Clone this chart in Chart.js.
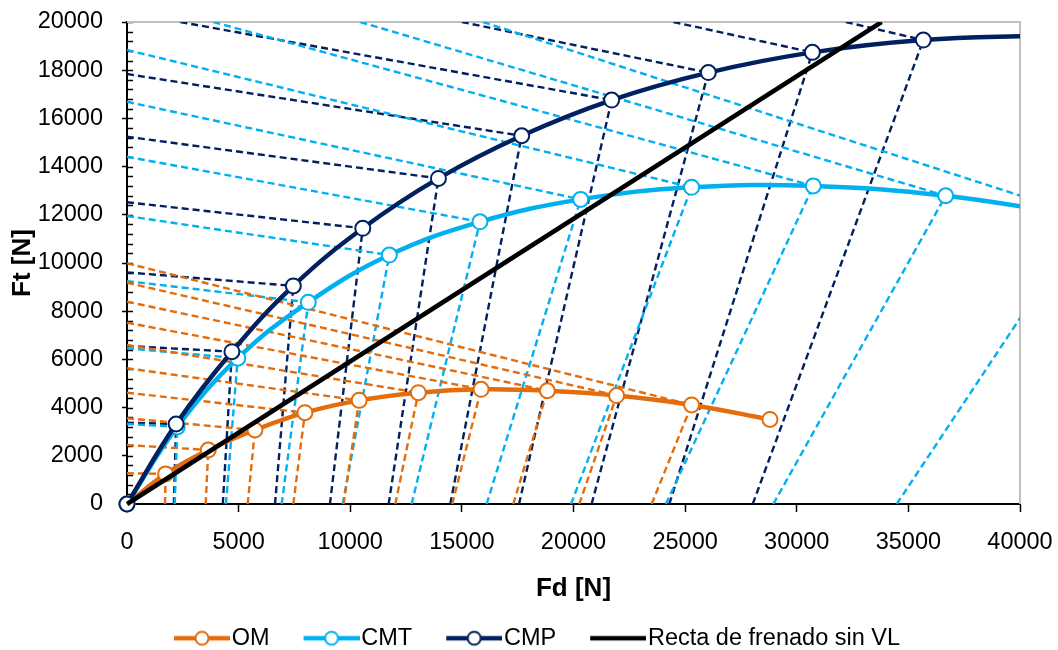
<!DOCTYPE html>
<html>
<head>
<meta charset="utf-8">
<script src="https://cdn.jsdelivr.net/npm/chart.js@4.4.1/dist/chart.umd.min.js"></script>
<style>
html, body { margin: 0; padding: 0; background: #fff; overflow: hidden; }
</style>
</head>
<body>
<canvas id="chart" width="1058" height="650"></canvas>
<script>
// marker points (Fd, Ft) for each series
const omFd  = [0, 1730, 3640, 5730, 7970, 10400, 13050, 15860, 18830, 21930, 25290, 28800];
const omFt  = [0, 1250, 2240, 3070, 3790, 4300, 4620, 4760, 4700, 4500, 4110, 3510];
const cmtFd = [0, 2250, 4960, 8120, 11750, 15810, 20320, 25290, 30740, 36670, 43000];
const cmtFt = [0, 3200, 6050, 8370, 10330, 11710, 12640, 13140, 13200, 12790, 11900];
const cmpFd = [0, 2200, 4700, 7450, 10560, 13950, 17680, 21710, 26040, 30700, 35670, 41000];
const cmpFt = [0, 3320, 6320, 9050, 11440, 13510, 15280, 16760, 17900, 18740, 19250, 19440];
const rectaFd = [0, 33800];
const rectaFt = [0, 20000];

// rear-axle lines: start point (on the Ft axis or the top edge) -> marker
const omRearFd  = [0, 0, 0, 0, 0, 0, 0, 0, 0, 0];
const omRearFt  = [1274, 2448, 3556, 4619, 5631, 6600, 7523, 8394, 9182, 9988];
const cmtRearFd = [0, 0, 0, 0, 0, 0, 0, 3870, 10450, 15950];
const cmtRearFt = [3320, 6460, 9250, 11950, 14410, 16690, 18840, 20000, 20000, 20000];
const cmpRearFd = [0, 0, 0, 0, 0, 0, 2390, 15000, 24480, 32200];
const cmpRearFt = [3370, 6560, 9610, 12520, 15240, 17840, 20000, 20000, 20000, 20000];

// front-axle lines: start on the Fd axis -> marker
const omFrontFd  = [1702, 3525, 5406, 7449, 9700, 12018, 14571, 17304, 20260, 23502];
const cmtFrontFd = [2140, 4430, 6930, 9660, 12750, 16110, 19890, 24140, 28950, 34480];
const cmpFrontFd = [2100, 4290, 6630, 9090, 11720, 14480, 17560, 20810, 24290, 28030];

const xTicks = { min: 0, max: 40000, step: 5000 };
const yTicks = { min: 0, max: 20000, step: 2000 };
const legendNames = ['OM', 'CMT', 'CMP', 'Recta de frenado sin VL'];

const ORANGE = '#E46C0A';
const LBLUE = '#00B0F0';
const NAVY = '#002060';

Chart.defaults.font.family = "Arial, 'Liberation Sans', sans-serif";
Chart.defaults.color = '#000';

function points(fd, ft) {
    return fd.map((x, i) => ({ x: x, y: ft[i] }));
}

// segments start -> marker, broken by a null point
function guideLines(fd, ft, startFd, startFt, color) {
    const pts = [];
    for (let i = 0; i < startFd.length; i++) {
        pts.push({ x: startFd[i], y: startFt[i] });
        pts.push({ x: fd[i + 1], y: ft[i + 1] });
        pts.push({ x: fd[i + 1], y: null });
    }
    return {
        data: pts, borderColor: color, borderWidth: 2.4, borderDash: [7, 4],
        pointRadius: 0, tension: 0, spanGaps: false, fill: false, order: 10
    };
}

function frontLines(fd, ft, startFd, color) {
    return guideLines(fd, ft, startFd, startFd.map(() => 0), color);
}

function mainSeries(label, fd, ft, color, order, marker) {
    return {
        label: label, data: points(fd, ft), borderColor: color, borderWidth: 4.5,
        pointRadius: marker ? 7.5 : 0, pointBorderWidth: 2, pointBackgroundColor: '#fff', pointBorderColor: color,
        tension: 0.4, fill: false, order: order,
        clip: { left: 12, top: 0, right: 0, bottom: 12 }
    };
}

function legendIcon(color, width, marker) {
    const c = document.createElement('canvas');
    c.width = 90; c.height = 24;
    const g = c.getContext('2d');
    g.strokeStyle = color;
    g.lineWidth = width;
    g.beginPath(); g.moveTo(34, 12); g.lineTo(90, 12); g.stroke();
    if (marker) {
        g.beginPath(); g.arc(62, 12, 6.5, 0, Math.PI * 2);
        g.fillStyle = '#fff'; g.fill();
        g.lineWidth = 2; g.stroke();
    }
    return c;
}

const icons = [legendIcon(ORANGE, 4.5, true), legendIcon(LBLUE, 4.5, true), legendIcon(NAVY, 4.5, true), legendIcon('#000', 4.5, false)];

// minor ticks, gray frame, legend position
const framePlugin = {
    id: 'framePlugin',
    afterLayout(chart) {
        chart.legend.left = 30;
        chart.legend.top += 10;
        chart.legend.bottom += 10;
    },
    beforeDatasetsDraw(chart) {
        const { ctx, chartArea: a, scales: { y } } = chart;
        ctx.save();
        ctx.strokeStyle = '#000';
        ctx.lineWidth = 1.5;
        for (let v = yTicks.min; v <= yTicks.max; v += yTicks.step / 5) {
            const py = Math.round(y.getPixelForValue(v)) + 0.5;
            ctx.beginPath(); ctx.moveTo(a.left, py); ctx.lineTo(a.left + 6, py); ctx.stroke();
        }
        ctx.strokeStyle = '#BFBFBF';
        ctx.lineWidth = 2;
        ctx.beginPath();
        ctx.moveTo(a.left, a.top); ctx.lineTo(a.right, a.top); ctx.lineTo(a.right, a.bottom);
        ctx.stroke();
        ctx.restore();
    }
};

new Chart(document.getElementById('chart'), {
    type: 'line',
    data: {
        datasets: [
            mainSeries(legendNames[3], rectaFd, rectaFt, '#000', 0, false),
            mainSeries(legendNames[2], cmpFd, cmpFt, NAVY, 1, true),
            mainSeries(legendNames[1], cmtFd, cmtFt, LBLUE, 2, true),
            mainSeries(legendNames[0], omFd, omFt, ORANGE, 3, true),
            guideLines(omFd, omFt, omRearFd, omRearFt, ORANGE),
            frontLines(omFd, omFt, omFrontFd, ORANGE),
            guideLines(cmtFd, cmtFt, cmtRearFd, cmtRearFt, LBLUE),
            frontLines(cmtFd, cmtFt, cmtFrontFd, LBLUE),
            guideLines(cmpFd, cmpFt, cmpRearFd, cmpRearFt, NAVY),
            frontLines(cmpFd, cmpFt, cmpFrontFd, NAVY)
        ]
    },
    options: {
        responsive: false,
        animation: false,
        events: [],
        layout: { padding: { left: 0, right: 38, top: 22, bottom: 0 } },
        scales: {
            x: {
                type: 'linear', min: xTicks.min, max: xTicks.max,
                ticks: { stepSize: xTicks.step, padding: 16, font: { size: 23.5 }, maxRotation: 0, autoSkip: false,
                         callback: v => String(v) },
                grid: { drawOnChartArea: false, tickLength: 8, color: '#000', tickColor: '#000', tickWidth: 1.5 },
                border: { color: '#000', width: 2 },
                title: { display: true, text: 'Fd [N]', font: { size: 26, weight: 'bold' }, padding: { top: 0, bottom: 2 } },
                afterFit: s => { s.height = 102.5; s.paddingLeft = 0; s.paddingRight = 0; }
            },
            y: {
                type: 'linear', min: yTicks.min, max: yTicks.max,
                ticks: { stepSize: yTicks.step, padding: 19, font: { size: 23.5 }, callback: v => String(v) },
                grid: { drawOnChartArea: false, tickLength: 5, color: '#000', tickColor: '#000', tickWidth: 1.5 },
                border: { color: '#000', width: 2 },
                title: { display: true, text: 'Ft [N]', font: { size: 26, weight: 'bold' }, padding: { top: 7, bottom: 0 } },
                afterFit: s => { s.width = 127; s.paddingTop = 0; s.paddingBottom = 0; }
            }
        },
        plugins: {
            tooltip: { enabled: false },
            legend: {
                position: 'bottom',
                labels: {
                    usePointStyle: true, pointStyleWidth: 70, padding: 10, font: { size: 23.5 },
                    generateLabels: () => legendNames.map((name, i) => ({
                        text: name, pointStyle: icons[i], fillStyle: 'transparent',
                        strokeStyle: 'transparent', lineWidth: 0, fontColor: '#000', hidden: false
                    }))
                }
            }
        }
    },
    plugins: [framePlugin]
});
</script>
</body>
</html>
